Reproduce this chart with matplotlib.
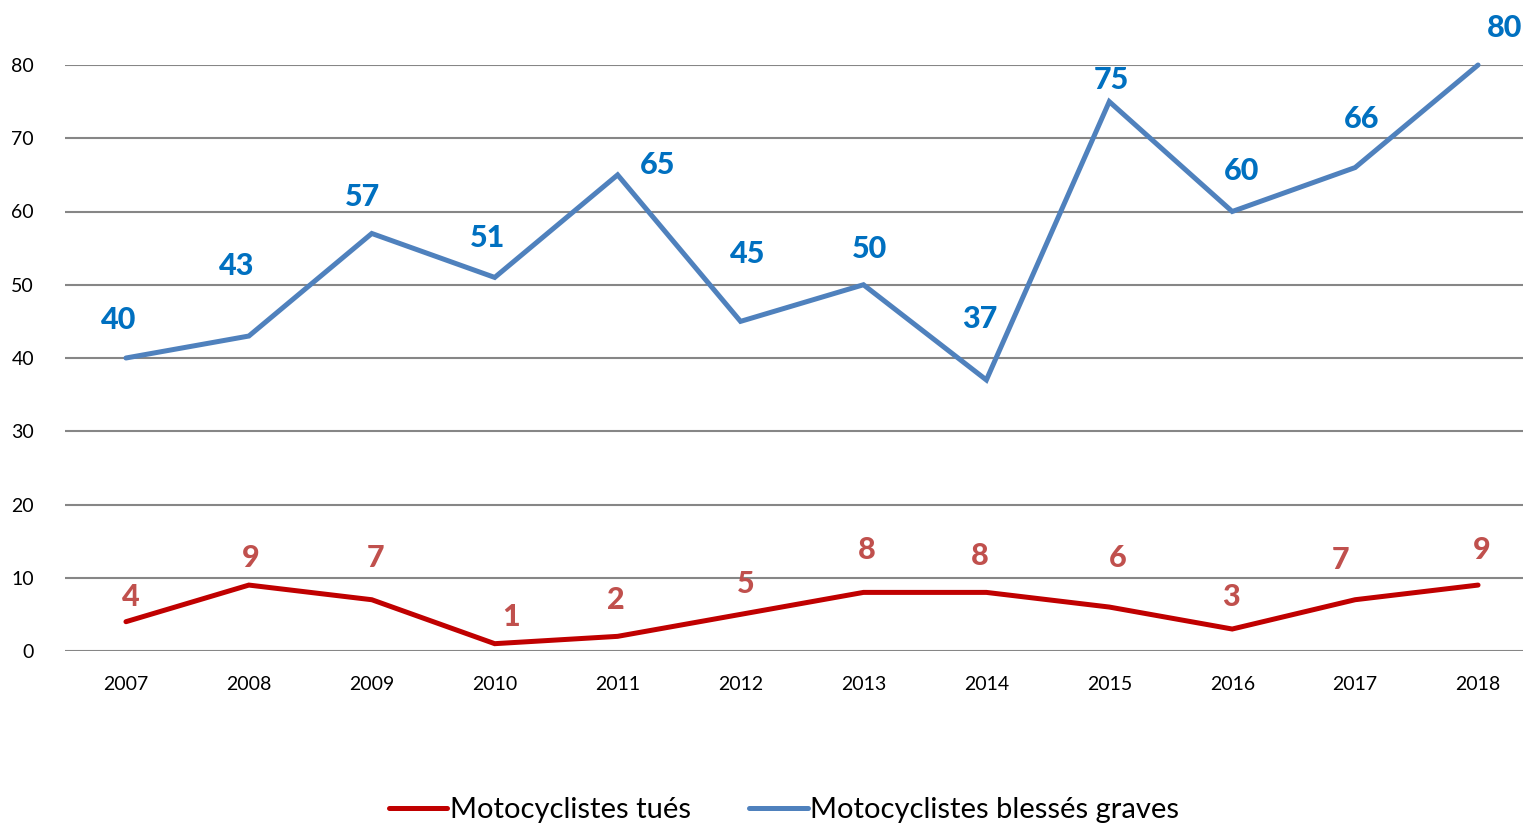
import matplotlib
matplotlib.use("Agg")
import matplotlib.pyplot as plt

plt.rcParams['font.family'] = ['Lato', 'DejaVu Sans']

years = ['2007', '2008', '2009', '2010', '2011', '2012', '2013', '2014', '2015', '2016', '2017', '2018']
tues = [4, 9, 7, 1, 2, 5, 8, 8, 6, 3, 7, 9]
blesses = [40, 43, 57, 51, 65, 45, 50, 37, 75, 60, 66, 80]
yticks = [0, 10, 20, 30, 40, 50, 60, 70, 80]

# label offsets in pixels (dx, dy) relative to each point
off_blue = [(-7, 38), (-12, 70), (-9, 36), (-7, 39), (40, 10), (7, 67), (6, 36), (-7, 61), (2, 22), (9, 41), (7, 49), (27, 37)]
off_red = [(5, 25), (2, 27), (4, 42), (16, 27), (-2, 36), (5, 30), (3, 42), (-7, 36), (8, 49), (-1, 32), (-15, 40), (4, 35)]

W, H = 1523, 826
fig = plt.figure(figsize=(W / 100, H / 100), dpi=100)
left, right, top, bottom = 64.5, 1539.5, 65, 651
ax = fig.add_axes([left / W, (H - bottom) / H, (right - left) / W, (bottom - top) / H])

x = list(range(len(years)))
red_c = '#C00000'
blue_c = '#4F81BD'
ax.plot(x, tues, color=red_c, lw=3.6, solid_capstyle='round', solid_joinstyle='miter', label='Motocyclistes tués', zorder=3, clip_on=False)
ax.plot(x, blesses, color=blue_c, lw=3.6, solid_capstyle='round', solid_joinstyle='miter', label='Motocyclistes blessés graves', zorder=3, clip_on=False)

for xi, v, (dx, dy) in zip(x, blesses, off_blue):
    ax.annotate(str(v), (xi, v), xytext=(dx, dy), textcoords='offset pixels', ha='center', va='center',
                color='#0070C0', fontsize=22, fontweight='black', annotation_clip=False)
for xi, v, (dx, dy) in zip(x, tues, off_red):
    ax.annotate(str(v), (xi, v), xytext=(dx, dy), textcoords='offset pixels', ha='center', va='center',
                color='#C0504D', fontsize=22, fontweight='black', annotation_clip=False)

ax.set_xlim(-0.5, len(years) - 0.5)
ax.set_ylim(0, 80)
ax.set_yticks(yticks)
ax.set_xticks(x)
ax.set_xticklabels(years)
ax.tick_params(axis='both', length=0, labelsize=14, colors='black')
ax.tick_params(axis='y', pad=22)
ax.tick_params(axis='x', pad=18)
ax.yaxis.grid(True, color='#868686', lw=1.5)
ax.set_axisbelow(True)
for s in ax.spines.values():
    s.set_visible(False)

fig.legend(loc='center', bbox_to_anchor=(784 / W, 1 - 810 / H), ncol=2, frameon=False, fontsize=21,
           handlelength=2.0, handletextpad=0.1, columnspacing=2.0)

fig.savefig('out.png', dpi=100)
